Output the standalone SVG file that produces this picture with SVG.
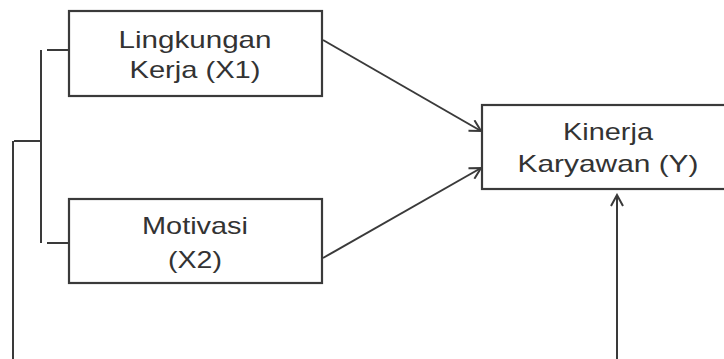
<svg xmlns="http://www.w3.org/2000/svg" width="724" height="359" viewBox="0 0 724 359">
<style>
.box{fill:#fff;stroke:#3a3a3a;stroke-width:2.2}
.ln{fill:none;stroke:#3a3a3a;stroke-width:2}
.t{font-family:"Liberation Sans",Arial,sans-serif;font-size:24px;fill:#333;text-anchor:middle}
</style>
<defs>
<marker id="ah" markerWidth="14" markerHeight="14" refX="12" refY="7" orient="auto" markerUnits="userSpaceOnUse">
<path d="M1,1 L12,7 L1,13" fill="none" stroke="#3a3a3a" stroke-width="2"/>
</marker>
</defs>
<rect width="724" height="359" fill="#fff"/>
<g id="x1">
<rect class="box" x="69" y="11" width="253" height="85"/>
<text class="t" x="195" y="48" textLength="153" lengthAdjust="spacingAndGlyphs">Lingkungan</text>
<text class="t" x="195" y="78" textLength="131" lengthAdjust="spacingAndGlyphs">Kerja (X1)</text>
</g>
<g id="x2">
<rect class="box" x="69" y="199" width="253" height="84"/>
<text class="t" x="195" y="234" textLength="106" lengthAdjust="spacingAndGlyphs">Motivasi</text>
<text class="t" x="195" y="268" textLength="54" lengthAdjust="spacingAndGlyphs">(X2)</text>
</g>
<g id="y">
<rect class="box" x="482" y="105" width="250" height="84"/>
<text class="t" x="608" y="140" textLength="90" lengthAdjust="spacingAndGlyphs">Kinerja</text>
<text class="t" x="608" y="172" textLength="181" lengthAdjust="spacingAndGlyphs">Karyawan (Y)</text>
</g>
<g id="connectors">
<path class="ln" d="M47,50 H69 M41,50 V243 M47,243 H69 M14,141 H41 M13,141 V359"/>
<line class="ln" x1="323" y1="40" x2="481" y2="131" marker-end="url(#ah)"/>
<line class="ln" x1="323" y1="258" x2="481" y2="168" marker-end="url(#ah)"/>
<line class="ln" x1="617" y1="359" x2="617" y2="195" marker-end="url(#ah)"/>
</g>
</svg>
